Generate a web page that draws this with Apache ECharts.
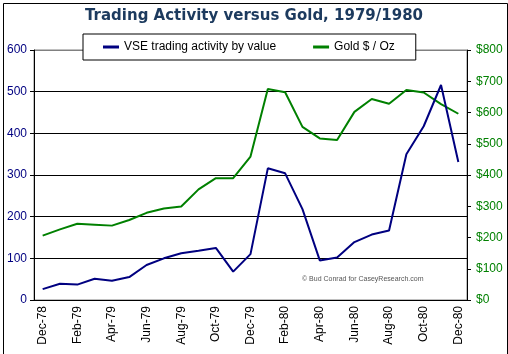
<!DOCTYPE html>
<html><head><meta charset="utf-8">
<script src="https://cdn.jsdelivr.net/npm/echarts@6/dist/echarts.min.js"></script>
<style>html,body{margin:0;padding:0;background:#fff}#c{width:508px;height:354px}</style>
</head><body><div id="c"></div>
<script>
var months = ['Dec-78','Jan-79','Feb-79','Mar-79','Apr-79','May-79','Jun-79','Jul-79','Aug-79','Sep-79','Oct-79','Nov-79','Dec-79','Jan-80','Feb-80','Mar-80','Apr-80','May-80','Jun-80','Jul-80','Aug-80','Sep-80','Oct-80','Nov-80','Dec-80'];
var vseValues = [26,39,37,51,46,55,84,100,112,118,125,68,110,316,304,218,95,102,139,157,167,350,417,516,331];
var goldValues = [206,226,244,241,238,256,279,293,299,354,390,390,459,675,665,554,517,512,602,643,628,672,664,627,596];
var leftTicks = {min:0, max:600, interval:100};
var rightTicks = {min:0, max:800, interval:100};

var chart = echarts.init(document.getElementById('c'));
var font = 'Liberation Sans, Arial, sans-serif';
chart.setOption({
  animation:false,
  backgroundColor:'#fff',
  title:{text:'Trading Activity versus Gold, 1979/1980', left:'center', top:4,
    textStyle:{fontFamily:'DejaVu Sans, Verdana, sans-serif', fontWeight:'bold', fontSize:15, color:'#1c3a5e'}},
  legend:{left:83, top:34, itemWidth:16, itemHeight:3, itemGap:37, icon:'rect',
    padding:[7,21,7,20], borderColor:'#000', borderWidth:1, backgroundColor:'#fff',
    textStyle:{fontFamily:font, fontSize:12, color:'#000'},
    data:['VSE trading activity by value','Gold $ / Oz']},
  grid:{left:34, right:41, top:50, bottom:54, show:true, borderColor:'#808080', borderWidth:1, backgroundColor:'#fff'},
  graphic:[
    {type:'rect', left:1, top:1, shape:{width:504, height:351}, style:{fill:'none', stroke:'#000', lineWidth:1}, silent:true},
    {type:'text', left:302, top:276, style:{text:'\u00a9 Bud Conrad for CaseyResearch.com', fontFamily:font, fontSize:7, fill:'#555'}}
  ],
  xAxis:{type:'category', data:months, boundaryGap:true,
    axisLine:{lineStyle:{color:'#000', width:1}},
    axisTick:{interval:1, alignWithLabel:false, length:4, lineStyle:{color:'#000'}},
    axisLabel:{interval:1, rotate:90, margin:6, fontFamily:font, fontSize:12, color:'#000'},
    splitLine:{show:false}},
  yAxis:[
    {type:'value', min:leftTicks.min, max:leftTicks.max, interval:leftTicks.interval, position:'left',
      axisLine:{show:true, lineStyle:{color:'#000'}},
      axisTick:{show:true, length:4, lineStyle:{color:'#000'}},
      axisLabel:{fontFamily:font, fontSize:12, color:'#000080', margin:7},
      splitLine:{show:true, lineStyle:{color:['#000','#000','#000','#000','#000','#000','#808080'], width:1}}},
    {type:'value', min:rightTicks.min, max:rightTicks.max, interval:rightTicks.interval, position:'right',
      axisLine:{show:true, lineStyle:{color:'#000'}},
      axisTick:{show:true, length:4, lineStyle:{color:'#000'}},
      axisLabel:{fontFamily:font, fontSize:12, color:'#008000', margin:9, formatter:'${value}'},
      splitLine:{show:false}}
  ],
  series:[
    {name:'VSE trading activity by value', type:'line', yAxisIndex:0, data:vseValues, symbol:'none',
      lineStyle:{color:'#000080', width:2}, itemStyle:{color:'#000080'}, z:3},
    {name:'Gold $ / Oz', type:'line', yAxisIndex:1, data:goldValues, symbol:'none',
      lineStyle:{color:'#008000', width:2}, itemStyle:{color:'#008000'}, z:2}
  ]
});
</script></body></html>
